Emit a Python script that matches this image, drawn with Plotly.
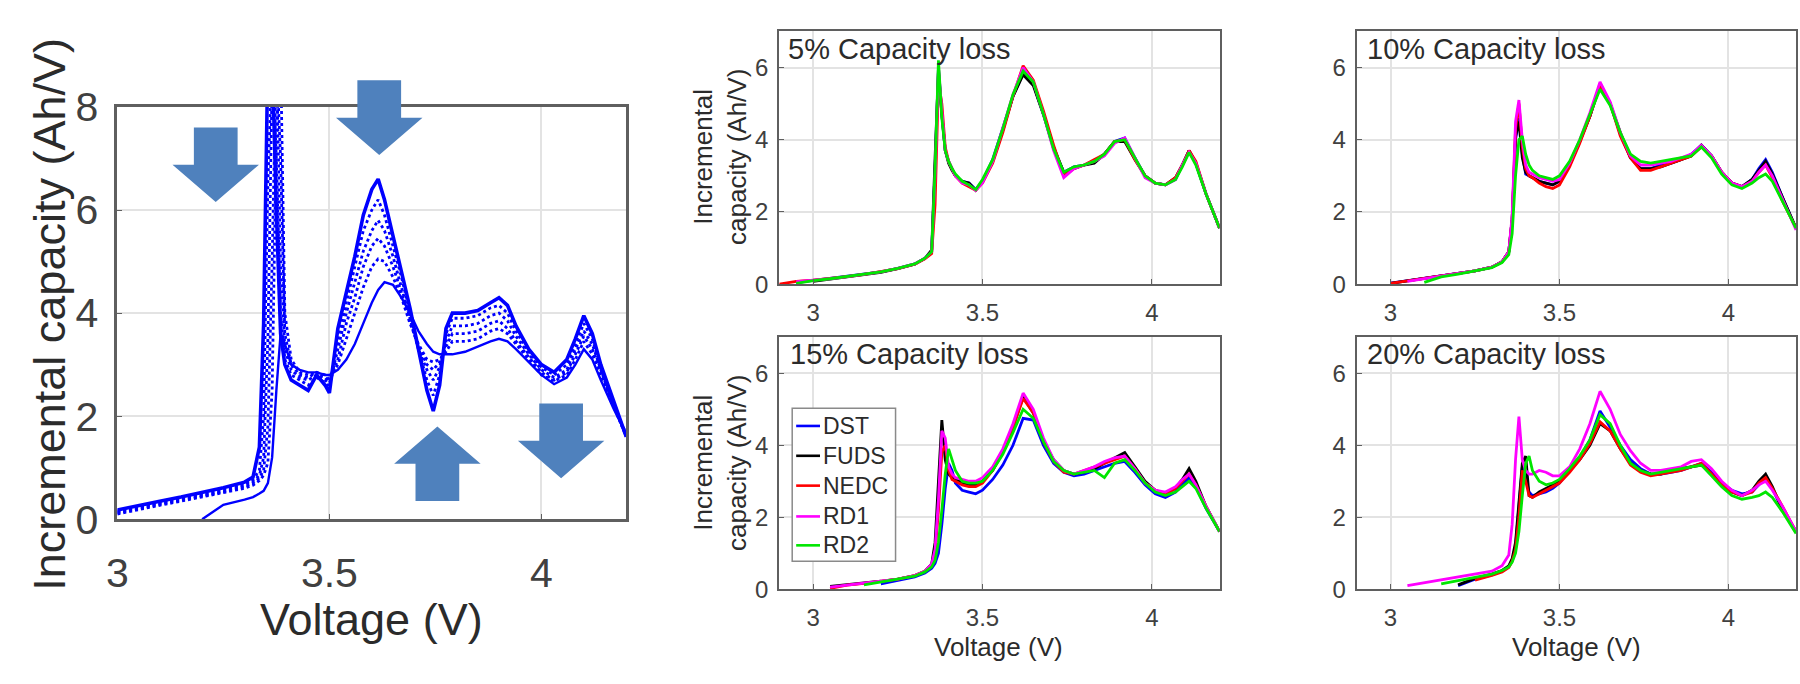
import plotly.graph_objects as go

# ---------------- data ----------------
# Left panel: IC curves of one cell during ageing (fresh -> aged)
V_LEFT = [3.00, 3.05, 3.10, 3.15, 3.20, 3.25, 3.30, 3.32, 3.335, 3.345,
          3.355, 3.365, 3.375, 3.385, 3.395, 3.41, 3.43, 3.45, 3.47, 3.49,
          3.50, 3.52, 3.54, 3.56, 3.58, 3.60, 3.615, 3.63, 3.65, 3.67,
          3.69, 3.71, 3.73, 3.745, 3.76, 3.775, 3.79, 3.82, 3.85, 3.88,
          3.90, 3.92, 3.94, 3.97, 4.00, 4.03, 4.06, 4.08, 4.10, 4.12,
          4.14, 4.17, 4.20]
IC_LEFT_FRESH = [0.18, 0.27, 0.35, 0.43, 0.52, 0.61, 0.72, 0.82, 1.4, 3.8,
                 9.0, 9.0, 6.0, 3.6, 3.0, 2.7, 2.6, 2.5, 2.8, 2.6,
                 2.45, 3.7, 4.4, 5.1, 5.9, 6.4, 6.6, 6.2, 5.5, 4.8,
                 4.1, 3.3, 2.5, 2.1, 2.6, 3.7, 4.0, 4.0, 4.05, 4.2,
                 4.3, 4.15, 3.75, 3.3, 3.0, 2.85, 3.1, 3.5, 3.95, 3.6,
                 3.0, 2.3, 1.6]
IC_LEFT_AGE2 = [0.16, 0.25, 0.33, 0.41, 0.49, 0.58, 0.69, 0.78, 0.95, 2.0,
                6.5, 9.0, 7.0, 4.0, 3.1, 2.8, 2.7, 2.6, 2.75, 2.65,
                2.55, 3.5, 4.2, 4.9, 5.6, 6.0, 6.2, 5.9, 5.3, 4.7,
                4.0, 3.3, 2.7, 2.4, 2.8, 3.6, 3.9, 3.9, 3.95, 4.1,
                4.15, 4.0, 3.65, 3.25, 2.95, 2.8, 3.0, 3.4, 3.8, 3.5,
                2.95, 2.25, 1.6]
IC_LEFT_AGE3 = [0.14, 0.23, 0.31, 0.39, 0.47, 0.55, 0.66, 0.74, 0.85, 1.2,
                3.5, 8.5, 9.0, 5.0, 3.3, 2.9, 2.75, 2.7, 2.8, 2.7,
                2.6, 3.3, 4.0, 4.6, 5.2, 5.6, 5.8, 5.6, 5.1, 4.5,
                3.9, 3.3, 2.9, 2.7, 2.95, 3.45, 3.75, 3.75, 3.8, 3.95,
                4.0, 3.85, 3.55, 3.2, 2.9, 2.75, 2.9, 3.3, 3.65, 3.4,
                2.9, 2.2, 1.6]
IC_LEFT_AGE4 = [0.12, 0.21, 0.29, 0.37, 0.45, 0.53, 0.63, 0.70, 0.8, 0.95,
                1.8, 5.0, 9.0, 7.0, 3.6, 3.0, 2.8, 2.75, 2.85, 2.75,
                2.65, 3.1, 3.8, 4.3, 4.9, 5.3, 5.45, 5.3, 4.9, 4.4,
                3.85, 3.35, 3.0, 2.9, 3.05, 3.35, 3.6, 3.6, 3.65, 3.8,
                3.85, 3.7, 3.45, 3.15, 2.85, 2.7, 2.85, 3.2, 3.55, 3.3,
                2.85, 2.2, 1.65]
IC_LEFT_AGE5 = [0.10, 0.19, 0.27, 0.35, 0.43, 0.51, 0.60, 0.66, 0.75, 0.85,
                1.1, 2.5, 7.5, 9.0, 4.0, 3.1, 2.85, 2.8, 2.85, 2.8,
                2.7, 3.0, 3.5, 4.0, 4.5, 4.9, 5.05, 5.0, 4.7, 4.3,
                3.8, 3.4, 3.1, 3.05, 3.1, 3.25, 3.45, 3.45, 3.5, 3.65,
                3.7, 3.6, 3.4, 3.1, 2.8, 2.68, 2.8, 3.1, 3.45, 3.2,
                2.8, 2.2, 1.65]
IC_LEFT_AGED = [None, None, None, None, 0.0, 0.28, 0.38, 0.43, 0.5, 0.55,
                0.7, 1.2, 2.5, 3.6, 3.4, 3.0, 2.9, 2.85, 2.85, 2.8,
                2.8, 2.9, 3.1, 3.4, 3.8, 4.2, 4.45, 4.6, 4.55, 4.3,
                4.0, 3.65, 3.4, 3.25, 3.2, 3.2, 3.2, 3.25, 3.35, 3.45,
                3.5, 3.45, 3.3, 3.05, 2.8, 2.62, 2.75, 3.0, 3.3, 3.1,
                2.7, 2.15, 1.65]

# Right panels: IC curves per driving cycle at each capacity-loss level
V_RIGHT = [2.90, 2.95, 3.00, 3.05, 3.10, 3.15, 3.20, 3.25, 3.30, 3.33,
           3.35, 3.36, 3.37, 3.38, 3.39, 3.40, 3.41, 3.42, 3.44, 3.46,
           3.48, 3.50, 3.53, 3.56, 3.59, 3.62, 3.65, 3.68, 3.71, 3.74,
           3.77, 3.80, 3.83, 3.86, 3.89, 3.92, 3.95, 3.98, 4.01, 4.04,
           4.07, 4.09, 4.11, 4.13, 4.16, 4.20]

IC05_DST = [None, 0.04, 0.1, 0.15, 0.21, 0.27, 0.34, 0.44, 0.56, 0.72, 0.9, 3.2, 6.0, 4.7, 3.7, 3.4, 3.2, 3.0, 2.85, 2.8, 2.62, 2.85, 3.45, 4.3, 5.2, 5.85, 5.55, 4.7, 3.75, 3.1, 3.25, 3.3, 3.4, 3.6, 3.95, 4.05, 3.5, 3.0, 2.8, 2.75, 2.9, 3.3, 3.7, 3.35, 2.5, 1.55]
IC05_FUDS = [None, None, 0.08, 0.14, 0.2, 0.26, 0.33, 0.43, 0.55, 0.71, 0.95, 3.5, 5.9, 4.7, 3.7, 3.35, 3.15, 3.0, 2.85, 2.8, 2.6, 2.85, 3.4, 4.25, 5.2, 5.8, 5.5, 4.7, 3.8, 3.1, 3.2, 3.3, 3.35, 3.6, 3.95, 3.95, 3.45, 3.0, 2.8, 2.75, 2.95, 3.3, 3.7, 3.35, 2.5, 1.55]
IC05_NEDC = [0.0, 0.08, 0.11, 0.15, 0.21, 0.27, 0.34, 0.43, 0.55, 0.7, 0.85, 2.2, 5.6, 5.0, 3.8, 3.4, 3.2, 3.0, 2.8, 2.7, 2.6, 2.8, 3.35, 4.2, 5.2, 6.05, 5.65, 4.8, 3.85, 3.0, 3.2, 3.3, 3.45, 3.6, 3.95, 4.0, 3.45, 3.0, 2.8, 2.75, 2.95, 3.3, 3.7, 3.4, 2.5, 1.55]
IC05_RD1 = [None, 0.07, 0.1, 0.15, 0.21, 0.27, 0.34, 0.44, 0.56, 0.72, 0.9, 3.0, 6.0, 4.8, 3.7, 3.4, 3.2, 3.0, 2.8, 2.75, 2.6, 2.8, 3.4, 4.3, 5.25, 6.0, 5.6, 4.7, 3.7, 2.95, 3.2, 3.3, 3.4, 3.55, 3.9, 4.05, 3.5, 2.95, 2.8, 2.75, 2.9, 3.3, 3.65, 3.35, 2.5, 1.55]
IC05_RD2 = [None, 0.02, 0.10, 0.15, 0.21, 0.27, 0.34, 0.44, 0.56, 0.72, 0.9, 3.2, 6.2, 4.6, 3.7, 3.4, 3.2, 3.05, 2.85, 2.75, 2.62, 2.9, 3.45, 4.3, 5.25, 5.9, 5.6, 4.7, 3.75, 3.1, 3.25, 3.3, 3.4, 3.6, 3.95, 4.0, 3.5, 3.0, 2.8, 2.75, 2.9, 3.25, 3.65, 3.3, 2.5, 1.55]

IC10_DST = [None, None, 0.03, 0.1, 0.16, 0.23, 0.3, 0.37, 0.47, 0.62, 0.9, 1.8, 4.0, 4.6, 3.6, 3.05, 3.0, 2.95, 2.85, 2.8, 2.75, 2.85, 3.3, 3.95, 4.65, 5.5, 5.0, 4.15, 3.5, 3.2, 3.2, 3.3, 3.35, 3.45, 3.6, 3.85, 3.55, 3.1, 2.8, 2.7, 2.9, 3.2, 3.45, 3.1, 2.4, 1.55]
IC10_FUDS = [None, None, 0.02, 0.1, 0.16, 0.23, 0.3, 0.37, 0.47, 0.62, 0.9, 1.8, 4.1, 4.5, 3.5, 3.1, 3.0, 2.95, 2.85, 2.8, 2.75, 2.85, 3.3, 3.95, 4.65, 5.55, 5.0, 4.2, 3.5, 3.2, 3.2, 3.25, 3.35, 3.45, 3.55, 3.85, 3.55, 3.1, 2.8, 2.7, 2.9, 3.15, 3.4, 3.05, 2.4, 1.55]
IC10_NEDC = [None, None, 0.02, 0.1, 0.16, 0.23, 0.3, 0.37, 0.47, 0.62, 0.9, 1.8, 4.3, 5.0, 3.8, 3.2, 3.0, 2.95, 2.8, 2.7, 2.65, 2.75, 3.25, 3.9, 4.65, 5.5, 5.0, 4.1, 3.5, 3.15, 3.15, 3.25, 3.35, 3.45, 3.55, 3.8, 3.55, 3.1, 2.8, 2.7, 2.85, 3.1, 3.3, 2.95, 2.3, 1.55]
IC10_RD1 = [None, None, None, 0.08, 0.16, 0.23, 0.3, 0.37, 0.47, 0.62, 0.9, 1.9, 4.5, 5.1, 4.0, 3.3, 3.1, 3.05, 2.95, 2.9, 2.85, 2.9, 3.35, 4.0, 4.75, 5.6, 5.05, 4.2, 3.55, 3.3, 3.3, 3.35, 3.4, 3.5, 3.6, 3.85, 3.55, 3.1, 2.8, 2.7, 2.85, 3.1, 3.3, 3.0, 2.35, 1.5]
IC10_RD2 = [None, None, None, None, 0.05, 0.2, 0.28, 0.36, 0.46, 0.6, 0.82, 1.4, 3.0, 4.0, 4.1, 3.6, 3.3, 3.15, 3.0, 2.95, 2.9, 3.0, 3.4, 4.0, 4.7, 5.4, 4.95, 4.2, 3.6, 3.4, 3.35, 3.4, 3.45, 3.5, 3.55, 3.8, 3.5, 3.05, 2.75, 2.65, 2.8, 2.95, 3.05, 2.85, 2.3, 1.55]

IC15_DST = [None, None, None, None, None, None, 0.15, 0.25, 0.34, 0.45, 0.58, 0.72, 1.0, 1.8, 2.8, 3.5, 3.3, 2.95, 2.75, 2.7, 2.65, 2.75, 3.05, 3.45, 4.0, 4.75, 4.7, 4.0, 3.5, 3.25, 3.15, 3.2, 3.3, 3.4, 3.5, 3.55, 3.25, 2.9, 2.65, 2.55, 2.7, 2.9, 3.1, 2.85, 2.25, 1.6]
IC15_FUDS = [None, None, None, 0.08, 0.12, 0.16, 0.22, 0.28, 0.38, 0.5, 0.7, 1.3, 3.0, 4.7, 3.6, 3.2, 3.1, 3.05, 2.95, 2.9, 2.9, 3.0, 3.3, 3.8, 4.5, 5.35, 4.9, 4.1, 3.6, 3.3, 3.2, 3.25, 3.35, 3.5, 3.65, 3.8, 3.4, 3.0, 2.75, 2.65, 2.8, 3.05, 3.35, 3.0, 2.3, 1.6]
IC15_NEDC = [None, None, None, 0.02, 0.11, 0.16, 0.22, 0.28, 0.38, 0.5, 0.68, 1.0, 2.2, 3.8, 4.0, 3.3, 3.05, 3.0, 2.9, 2.85, 2.85, 2.95, 3.3, 3.85, 4.5, 5.3, 4.9, 4.1, 3.55, 3.25, 3.2, 3.3, 3.4, 3.5, 3.6, 3.7, 3.35, 2.95, 2.75, 2.65, 2.8, 3.0, 3.2, 2.9, 2.3, 1.6]
IC15_RD1 = [None, None, None, 0.06, 0.12, 0.16, 0.22, 0.28, 0.38, 0.5, 0.7, 1.1, 2.5, 4.4, 4.2, 3.4, 3.2, 3.1, 3.05, 3.0, 3.0, 3.1, 3.4, 3.9, 4.6, 5.45, 5.0, 4.2, 3.6, 3.3, 3.2, 3.3, 3.4, 3.55, 3.65, 3.7, 3.35, 2.95, 2.75, 2.7, 2.85, 3.05, 3.2, 2.9, 2.3, 1.6]
IC15_RD2 = [None, None, None, None, None, 0.12, 0.2, 0.27, 0.36, 0.48, 0.62, 0.8, 1.3, 2.2, 3.2, 3.9, 3.6, 3.3, 3.0, 2.95, 2.95, 3.0, 3.3, 3.75, 4.35, 5.0, 4.75, 4.1, 3.55, 3.3, 3.2, 3.25, 3.3, 3.1, 3.5, 3.6, 3.3, 2.95, 2.7, 2.6, 2.7, 2.85, 3.0, 2.8, 2.25, 1.6]

IC20_DST = [None, None, None, None, None, None, 0.1, 0.28, 0.4, 0.5, 0.62, 0.8, 1.2, 2.2, 3.4, 3.1, 2.7, 2.6, 2.65, 2.7, 2.8, 2.95, 3.3, 3.65, 4.15, 4.95, 4.5, 4.0, 3.6, 3.35, 3.2, 3.2, 3.25, 3.3, 3.4, 3.5, 3.25, 2.95, 2.75, 2.65, 2.7, 2.9, 3.1, 2.8, 2.2, 1.6]
IC20_FUDS = [None, None, None, None, None, None, 0.12, 0.3, 0.42, 0.52, 0.65, 0.85, 1.3, 2.4, 3.5, 3.7, 2.6, 2.55, 2.7, 2.8, 2.9, 3.0, 3.3, 3.6, 4.0, 4.6, 4.4, 3.9, 3.5, 3.3, 3.2, 3.2, 3.3, 3.35, 3.4, 3.45, 3.2, 2.9, 2.7, 2.6, 2.75, 3.0, 3.2, 2.85, 2.2, 1.6]
IC20_NEDC = [None, None, None, None, None, None, None, 0.25, 0.38, 0.48, 0.6, 0.78, 1.1, 2.0, 3.3, 3.0, 2.6, 2.55, 2.65, 2.75, 2.85, 2.95, 3.25, 3.6, 4.05, 4.65, 4.4, 3.9, 3.45, 3.25, 3.15, 3.2, 3.25, 3.3, 3.4, 3.5, 3.2, 2.9, 2.7, 2.6, 2.7, 2.95, 3.1, 2.8, 2.3, 1.6]
IC20_RD1 = [None, None, None, 0.1, 0.18, 0.26, 0.34, 0.42, 0.5, 0.65, 0.95, 1.8, 3.6, 4.8, 3.6, 3.3, 3.2, 3.2, 3.3, 3.25, 3.15, 3.15, 3.4, 3.9, 4.6, 5.5, 5.0, 4.3, 3.85, 3.5, 3.3, 3.3, 3.35, 3.4, 3.55, 3.6, 3.35, 3.0, 2.75, 2.6, 2.75, 2.9, 3.0, 2.75, 2.3, 1.6]
IC20_RD2 = [None, None, None, None, None, 0.15, 0.25, 0.33, 0.42, 0.52, 0.62, 0.75, 1.0, 1.6, 2.6, 3.5, 3.7, 3.3, 3.0, 2.9, 2.95, 3.05, 3.35, 3.7, 4.15, 4.85, 4.6, 4.0, 3.5, 3.3, 3.2, 3.25, 3.3, 3.35, 3.4, 3.45, 3.15, 2.85, 2.6, 2.5, 2.55, 2.6, 2.7, 2.55, 2.15, 1.55]

CYCLES = ["DST", "FUDS", "NEDC", "RD1", "RD2"]
PANEL_TITLES = ["5% Capacity loss", "10% Capacity loss", "15% Capacity loss", "20% Capacity loss"]
X_TICKS = [3, 3.5, 4]
X_TICKLABELS = ["3", "3.5", "4"]
Y_TICKS_LEFT = [0, 2, 4, 6, 8]
Y_TICKS_RIGHT = [0, 2, 4, 6]

# ---------------- styling ----------------
W, H = 1800, 684
FONT = "Liberation Sans, Arial, sans-serif"
TXT = "#2b2b2b"
TICKC = "#404040"
AXC = "#5f5f5f"
GRIDC = "#e3e3e3"
CYCLE_COLORS = {"DST": "#0000ff", "FUDS": "#000000", "NEDC": "#ff0000",
                "RD1": "#ff00ff", "RD2": "#00e600"}
ARROW_BLUE = "#4f81bd"


def px_x(x):
    return x / W


def px_y(y):
    return 1 - y / H


# pixel boxes (left, top, right, bottom)
BOX_LEFT = (107, 90, 619, 532)
BOXES_RIGHT = [(773, 9, 1216, 280), (1354, 9, 1796, 280),
               (773, 337, 1216, 607), (1354, 337, 1796, 607)]

fig = go.Figure()

left_series = [
    (IC_LEFT_FRESH, "solid", 3.6),
    (IC_LEFT_AGE2, "dot", 2.8),
    (IC_LEFT_AGE3, "dot", 2.8),
    (IC_LEFT_AGE4, "dot", 2.8),
    (IC_LEFT_AGE5, "dot", 2.8),
    (IC_LEFT_AGED, "solid", 2.4),
]
for arr, _, _ in left_series:
    assert len(arr) == len(V_LEFT)
for ys, dash, w in left_series:
    fig.add_trace(go.Scatter(x=V_LEFT, y=ys, mode="lines", xaxis="x", yaxis="y",
                             line=dict(color="#0000ff", width=w, dash=dash),
                             showlegend=False, connectgaps=False))

panel_data = [
    [IC05_DST, IC05_FUDS, IC05_NEDC, IC05_RD1, IC05_RD2],
    [IC10_DST, IC10_FUDS, IC10_NEDC, IC10_RD1, IC10_RD2],
    [IC15_DST, IC15_FUDS, IC15_NEDC, IC15_RD1, IC15_RD2],
    [IC20_DST, IC20_FUDS, IC20_NEDC, IC20_RD1, IC20_RD2],
]
for p, series in enumerate(panel_data):
    for name, ys in zip(CYCLES, series):
        assert len(ys) == len(V_RIGHT), (p, name, len(ys))
        fig.add_trace(go.Scatter(
            x=V_RIGHT, y=ys, mode="lines", name=name,
            xaxis=f"x{p + 2}", yaxis=f"y{p + 2}",
            line=dict(color=CYCLE_COLORS[name], width=2.8),
            showlegend=False))

common_axis = dict(showline=True, mirror=True, linecolor=AXC, linewidth=2,
                   showgrid=True, gridcolor=GRIDC, gridwidth=1.5,
                   ticks="inside", ticklen=5, tickcolor=AXC, zeroline=False)

layout = dict(width=W, height=H, margin=dict(l=0, r=0, t=0, b=0, pad=0),
              paper_bgcolor="white", plot_bgcolor="white",
              font=dict(family=FONT, color=TXT), showlegend=False)

l, t, r, b = BOX_LEFT
layout["xaxis"] = dict(common_axis, domain=[px_x(l), px_x(r)], anchor="y",
                       range=[3, 4.2], tickvals=X_TICKS, ticktext=X_TICKLABELS,
                       tickfont=dict(size=41, color=TICKC, family=FONT),
                       ticklabelstandoff=16, linewidth=2.5)
layout["yaxis"] = dict(common_axis, domain=[px_y(b), px_y(t)], anchor="x",
                       range=[0, 8], tickvals=Y_TICKS_LEFT,
                       tickfont=dict(size=41, color=TICKC, family=FONT),
                       ticklabelstandoff=8, linewidth=2.5)

for i, (l, t, r, b) in enumerate(BOXES_RIGHT):
    k = i + 2
    layout[f"xaxis{k}"] = dict(common_axis, domain=[px_x(l), px_x(r)], anchor=f"y{k}",
                               range=[2.9, 4.2], tickvals=X_TICKS, ticktext=X_TICKLABELS,
                               tickfont=dict(size=24, color=TICKC, family=FONT),
                               ticklabelstandoff=6)
    layout[f"yaxis{k}"] = dict(common_axis, domain=[px_y(b), px_y(t)], anchor=f"x{k}",
                               range=[0, 7], tickvals=Y_TICKS_RIGHT,
                               tickfont=dict(size=24, color=TICKC, family=FONT),
                               ticklabelstandoff=4)

annotations = []
shapes = []
# panel titles
title_pos = [(780, 28), (1362, 28), (782, 355), (1362, 355)]
for text, (x, y) in zip(PANEL_TITLES, title_pos):
    annotations.append(dict(text=text, x=px_x(x), y=px_y(y), xref="paper", yref="paper",
                            xanchor="left", yanchor="middle", showarrow=False,
                            font=dict(size=29, color=TXT, family=FONT)))
# right axis titles
for yc in [144, 472]:
    annotations.append(dict(text="Incremental<br>capacity (Ah/V)", x=px_x(714), y=px_y(yc),
                            xref="paper", yref="paper", xanchor="center", yanchor="middle",
                            textangle=-90, showarrow=False,
                            font=dict(size=26, color=TXT, family=FONT)))
for xc in [994, 1575]:
    annotations.append(dict(text="Voltage (V)", x=px_x(xc), y=px_y(669), xref="paper",
                            yref="paper", xanchor="center", yanchor="middle",
                            showarrow=False, borderpad=0,
                            font=dict(size=26, color=TXT, family=FONT)))
# left axis titles
annotations.append(dict(text="Voltage (V)", x=px_x(363), y=px_y(640), xref="paper",
                        yref="paper", xanchor="center", yanchor="middle", showarrow=False,
                        font=dict(size=45, color=TXT, family=FONT)))
annotations.append(dict(text="Incremental capacity (Ah/V)", x=px_x(38), y=px_y(312),
                        xref="paper", yref="paper", xanchor="center", yanchor="middle",
                        textangle=-90, showarrow=False,
                        font=dict(size=45, color=TXT, family=FONT)))

# legend of the 15% panel (boxed, MATLAB style)
LEG_BOX = (786, 413, 890, 577)
LEG_ROWS = [432, 464, 496, 529, 560]
shapes.append(dict(type="rect", xref="paper", yref="paper",
                   x0=px_x(LEG_BOX[0]), x1=px_x(LEG_BOX[2]),
                   y0=px_y(LEG_BOX[3]), y1=px_y(LEG_BOX[1]),
                   fillcolor="white", line=dict(color="#8a8a8a", width=1.5), layer="above"))
for name, yrow in zip(CYCLES, LEG_ROWS):
    shapes.append(dict(type="line", xref="paper", yref="paper",
                       x0=px_x(790), x1=px_x(814), y0=px_y(yrow), y1=px_y(yrow),
                       line=dict(color=CYCLE_COLORS[name], width=2.6), layer="above"))
    annotations.append(dict(text=name, x=px_x(816), y=px_y(yrow), xref="paper", yref="paper",
                            xanchor="left", yanchor="middle", showarrow=False, borderpad=0,
                            font=dict(size=23, color=TXT, family=FONT)))

layout["annotations"] = annotations

# block arrows on the left panel (tip x, tip y in pixels, direction)
ARROWS = [(206, 192, "down"), (370.5, 141.5, "down"), (429, 432.5, "up"), (553.5, 488, "down")]
SHAFT_W, HEAD_W, HEAD_LEN, SHAFT_LEN = 44, 87, 40, 40


def arrow_path(tx, ty, direction):
    s = 1 if direction == "down" else -1
    hb = ty - s * HEAD_LEN
    st = hb - s * SHAFT_LEN
    pts = [(tx, ty), (tx + HEAD_W / 2, hb), (tx + SHAFT_W / 2, hb), (tx + SHAFT_W / 2, st),
           (tx - SHAFT_W / 2, st), (tx - SHAFT_W / 2, hb), (tx - HEAD_W / 2, hb)]
    return "M " + " L ".join(f"{px_x(x):.5f},{px_y(y):.5f}" for x, y in pts) + " Z"


shapes += [dict(type="path", path=arrow_path(*a), xref="paper", yref="paper",
                fillcolor=ARROW_BLUE, line=dict(width=0), layer="above")
           for a in ARROWS]
layout["shapes"] = shapes

fig.update_layout(**layout)
fig.write_html("out.html", config={"displayModeBar": False},
               post_script="document.body.style.margin='0px';document.body.style.overflow='hidden';")
